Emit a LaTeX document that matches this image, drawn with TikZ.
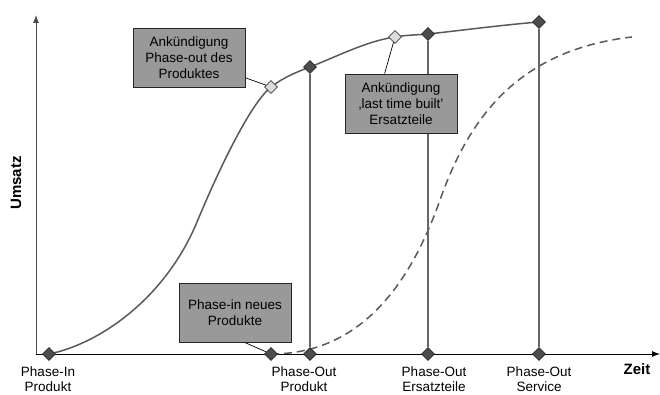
\documentclass[tikz,border=0pt]{standalone}
\usepackage{fontspec}
\setmainfont{Liberation Sans}
\usetikzlibrary{shapes.geometric,arrows.meta,positioning}

\definecolor{curvegray}{HTML}{595959}
\definecolor{darkmark}{HTML}{4D4D4D}
\definecolor{lightmark}{HTML}{DCDCDC}
\definecolor{boxgray}{HTML}{999999}

\begin{document}
\begin{tikzpicture}[x=1pt,y=1pt,
        every node/.style={font=\fontsize{13.5}{15}\selectfont},
        dmark/.style={diamond,draw=black!85,fill=darkmark,line width=0.6pt,minimum size=13pt,inner sep=0pt},
        lmark/.style={diamond,draw=black!75,fill=lightmark,line width=0.6pt,minimum size=13pt,inner sep=0pt},
        notebox/.style={draw=black!85,fill=boxgray,line width=0.8pt,minimum width=112pt,minimum height=59pt,
            align=center,inner sep=2pt,font=\fontsize{13.5}{16}\selectfont},
        axlabel/.style={anchor=north,align=center,inner sep=0pt,font=\fontsize{13.5}{14.5}\selectfont},
        curve/.style={curvegray,line width=1.5pt},
        vline/.style={black!60,line width=1.4pt},
        leader/.style={black,line width=0.7pt}]

        \useasboundingbox (0,0) rectangle (660,395);

        % axes
        \draw[line width=0.9pt,-{Latex[length=8pt,width=6pt]}] (36,41) -- (660,41);
        \draw[black!70,line width=0.9pt,-{Latex[length=8pt,width=6pt]}] (36,41) -- (36,380);
        \node[rotate=90,font=\fontsize{15}{15}\selectfont\bfseries] (umsatz) at (16,212) {Umsatz};
        \node[font=\fontsize{15}{15}\selectfont\bfseries] (zeit) at (637,26) {Zeit};

        % points on the curves
        \coordinate (pin) at (49,41);
        \coordinate (pnew) at (271,41);
        \coordinate (pop) at (310,41);
        \coordinate (poe) at (428,41);
        \coordinate (pos) at (539,41);
        \coordinate (ank1) at (271,308);
        \coordinate (cop) at (310,328);
        \coordinate (ank2) at (395,358);
        \coordinate (coe) at (428,361);
        \coordinate (cos) at (539,373);
        \coordinate (newend) at (632,358);

        % product life cycle
        \draw[curve] (pin) .. controls (99,51) and (165,96) .. (197,173)
            .. controls (217,221) and (249,290) .. (ank1)
            .. controls (284,318) and (297,323) .. (cop)
            .. controls (338,339) and (367,354) .. (ank2)
            .. controls (406,360) and (417,360) .. (coe)
            .. controls (465,365) and (502,370) .. (cos);
        % new product
        \draw[curve,dash pattern=on 8pt off 5pt] (pnew) .. controls (360,41) and (410,110) .. (440,195)
            .. controls (470,280) and (520,345) .. (newend);

        % markers
        \node[dmark] (pinD) at (pin) {};
        \node[dmark] (pnewD) at (pnew) {};
        \node[dmark] (popD) at (pop) {};
        \node[dmark] (poeD) at (poe) {};
        \node[dmark] (posD) at (pos) {};
        \node[dmark] (copD) at (cop) {};
        \node[dmark] (coeD) at (coe) {};
        \node[dmark] (cosD) at (cos) {};
        \node[lmark] (ank1D) at (ank1) {};
        \node[lmark] (ank2D) at (ank2) {};

        \draw[vline] (popD) -- (copD);
        \draw[vline] (poeD) -- (coeD);
        \draw[vline] (posD) -- (cosD);

        % notes
        \node[notebox] (box1) at (189,337.5) {Ankündigung\\Phase-out des\\Produktes};
        \node[notebox] (box2) at (401,291.5) {Ankündigung\\‚last time built'\\Ersatzteile};
        \node[notebox] (box3) at (235,82.5) {Phase-in neues\\Produkte};

        \draw[leader] (box1) -- (ank1D);
        \draw[leader] ([xshift=40pt]box2.north west) -- (ank2D);
        \draw[leader] ([xshift=66pt]box3.south west) -- (pnewD);

        % time axis labels
        \node[axlabel] (lpin) at (48,28) {Phase-In\\Produkt};
        \node[axlabel] (lpop) at (304,28) {Phase-Out\\Produkt};
        \node[axlabel] (lpoe) at (434,28) {Phase-Out\\Ersatzteile};
        \node[axlabel] (lpos) at (539,28) {Phase-Out\\Service};

    \end{tikzpicture}
\end{document}
